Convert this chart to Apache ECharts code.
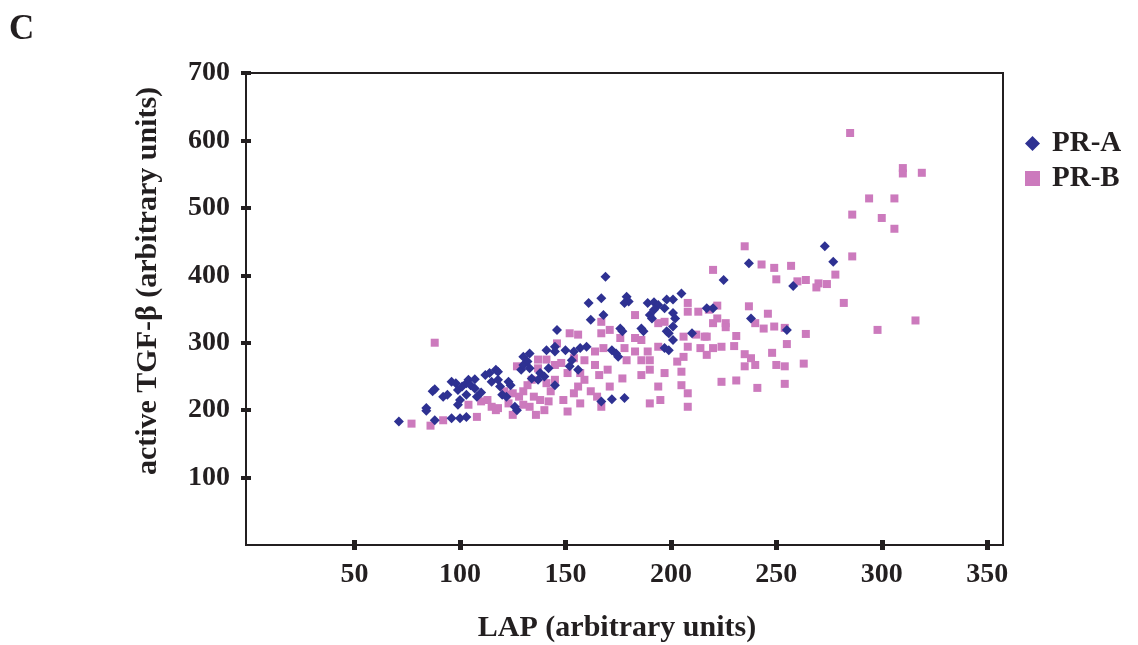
<!DOCTYPE html>
<html>
<head>
<meta charset="utf-8">
<script src="https://cdn.jsdelivr.net/npm/echarts@6/dist/echarts.min.js"></script>
<style>
html,body{margin:0;padding:0;background:#fff;}
#chart{width:1138px;height:645px;}
</style>
</head>
<body>
<div id="chart"></div>
<script>
// ---- data (LAP, active TGF-beta) ----
const xTicks = [50, 100, 150, 200, 250, 300, 350];
const yTicks = [100, 200, 300, 400, 500, 600, 700];
const seriesNames = ['PR-A', 'PR-B'];

const prA = [
  [71,183],[84,203],[84,199],[88,185],[87,228],[88,231],[92,220],[94,223],[96,242],[98,240],
  [99,230],[100,215],[99,208],[101,235],[103,240],[103,223],[104,245],[105,237],[107,246],[107,232],
  [108,220],[110,226],[112,252],[114,255],[115,242],[117,260],[118,245],[118,257],[119,235],[120,223],
  [122,220],[123,242],[124,237],[126,205],[127,200],[129,260],[130,279],[130,267],[132,272],[133,262],
  [133,284],[134,247],[137,245],[138,255],[140,250],[141,289],[142,262],[145,294],[145,287],[145,237],
  [146,319],[96,188],[100,188],[103,190],
  [169,398],[161,359],[167,366],[179,368],[180,361],[178,359],[189,359],[192,360],[194,356],[198,364],
  [201,364],[205,373],[168,341],[162,334],[176,321],[177,317],[186,321],[187,317],[190,341],[191,336],
  [192,349],[197,351],[201,344],[202,336],[201,324],[198,317],[199,314],[201,304],[197,292],[199,289],
  [217,351],[220,351],[210,314],[150,289],[154,287],[157,292],[160,294],[172,289],[174,284],[175,279],
  [152,265],[156,260],[167,213],[172,216],[178,218],[153,274],
  [273,443],[277,420],[237,418],[225,393],[258,384],[238,336],[255,319]
];

const prB = [
  [88,300],[77,180],[86,177],[92,185],[104,208],[108,190],[110,213],[113,215],[115,205],[117,200],
  [118,203],[121,228],[122,223],[123,210],[125,225],[125,193],[127,265],[128,220],[130,208],[130,228],
  [132,237],[133,205],[134,245],[135,220],[136,193],[137,262],[137,275],[138,215],[140,200],[141,240],
  [141,275],[142,213],[143,228],[145,267],[145,245],[146,299],
  [220,408],[208,359],[183,341],[208,346],[213,346],[218,349],[220,329],[222,336],[167,331],[152,314],
  [156,312],[167,314],[171,319],[176,307],[183,307],[186,304],[194,329],[197,331],[206,309],[212,312],
  [216,309],[208,294],[214,292],[220,292],[217,282],[206,279],[203,272],[148,270],[154,277],[159,274],
  [164,287],[168,292],[178,292],[183,287],[189,287],[194,294],[179,274],[186,274],[190,274],[190,260],
  [186,252],[197,255],[205,257],[177,247],[194,235],[205,237],[208,225],[151,255],[157,255],[164,267],
  [166,252],[170,260],[171,235],[159,245],[156,235],[154,225],[162,228],[165,220],[149,215],[157,210],
  [151,198],[167,205],[190,210],[195,215],[208,205],
  [235,443],[243,416],[249,411],[257,414],[250,394],[260,391],[264,393],[270,388],[274,387],[278,401],
  [237,354],[246,343],[222,355],[226,329],[226,323],[240,329],[244,321],[249,324],[254,322],[217,309],
  [231,310],[264,313],[255,298],[224,294],[230,295],[235,283],[238,277],[248,285],[235,265],[240,267],
  [250,267],[254,265],[263,269],[224,242],[231,244],[241,233],[254,239],
  [285,611],[310,559],[310,551],[319,552],[294,514],[306,514],[286,490],[300,485],[306,469],[286,428],
  [269,382],[282,359],[316,333],[298,319]
];

const ink = '#231F20';
const blue = '#2E3192';
const pink = '#CC7ABD';
const serif = '"Liberation Serif", "Times New Roman", serif';

const chart = echarts.init(document.getElementById('chart'));

const xMin = -1.5, xMax = 357.5, yMin = 0, yMax = 700;

chart.setOption({
  animation: false,
  backgroundColor: '#fff',
  grid: {
    left: 246, right: 135, top: 73, bottom: 100,
    show: true, borderColor: ink, borderWidth: 2, backgroundColor: 'transparent'
  },
  legend: {
    orient: 'vertical',
    left: 1020, top: 124,
    itemWidth: 15, itemHeight: 15,
    itemGap: 6,
    data: [
      { name: seriesNames[0], icon: 'diamond' },
      { name: seriesNames[1], icon: 'rect' }
    ],
    textStyle: { fontFamily: serif, fontWeight: 'bold', fontSize: 29, color: ink, padding: [0,0,0,7] }
  },
  xAxis: [{
    type: 'value', min: xMin, max: xMax,
    splitLine: { show: false },
    axisLine: { show: true, onZero: false, lineStyle: { color: ink, width: 2 } },
    axisTick: { show: true, customValues: xTicks, length: 5, lineStyle: { color: ink, width: 5 } },
    axisLabel: { customValues: xTicks, margin: 16, fontFamily: serif, fontWeight: 'bold', fontSize: 28, color: ink }
  }, {
    type: 'value', min: xMin, max: xMax, position: 'bottom',
    splitLine: { show: false },
    axisLine: { show: false, onZero: false },
    axisTick: { show: true, inside: true, customValues: xTicks, length: 5, lineStyle: { color: ink, width: 5 } },
    axisLabel: { show: false }
  }],
  yAxis: [{
    type: 'value', min: yMin, max: yMax,
    splitLine: { show: false },
    axisLine: { show: true, onZero: false, lineStyle: { color: ink, width: 2 } },
    axisTick: { show: true, customValues: yTicks, length: 5, lineStyle: { color: ink, width: 4 } },
    axisLabel: { customValues: yTicks, margin: 16, fontFamily: serif, fontWeight: 'bold', fontSize: 28, color: ink }
  }, {
    type: 'value', min: yMin, max: yMax, position: 'left',
    splitLine: { show: false },
    axisLine: { show: false, onZero: false },
    axisTick: { show: true, inside: true, customValues: yTicks, length: 5, lineStyle: { color: ink, width: 4 } },
    axisLabel: { show: false }
  }],
  series: [{
    name: seriesNames[1], type: 'scatter', data: prB,
    xAxisIndex: 0, yAxisIndex: 0,
    symbol: 'rect', symbolSize: 8,
    itemStyle: { color: pink, opacity: 1 }, z: 2
  }, {
    name: seriesNames[0], type: 'scatter', data: prA,
    xAxisIndex: 0, yAxisIndex: 0,
    symbol: 'diamond', symbolSize: 10,
    itemStyle: { color: blue, opacity: 1 }, z: 3
  }],
  graphic: [{
    type: 'text', left: 9, top: 12,
    style: { text: 'C', font: 'bold 35px ' + serif, fill: ink }
  }, {
    type: 'text', x: 617, y: 628,
    style: { text: 'LAP (arbitrary units)', font: 'bold 30px ' + serif, fill: ink, textAlign: 'center', textVerticalAlign: 'middle' }
  }, {
    type: 'text', x: 148, y: 281, rotation: Math.PI / 2,
    style: { text: 'active TGF-\u03b2 (arbitrary units)', font: 'bold 30px ' + serif, fill: ink, textAlign: 'center', textVerticalAlign: 'middle' }
  }]
});
</script>
</body>
</html>
